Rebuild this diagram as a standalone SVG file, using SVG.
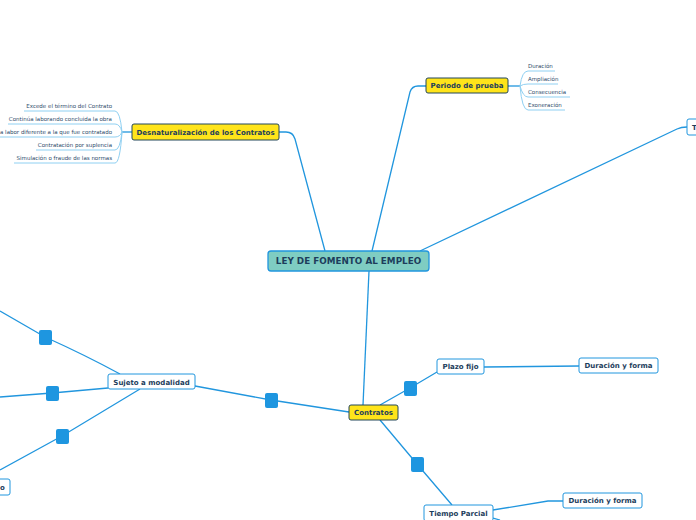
<svg xmlns="http://www.w3.org/2000/svg" width="696" height="520" viewBox="0 0 696 520">
<style>
.c{fill:none;stroke:#2196de;stroke-width:1.3}
.cl{fill:none;stroke:#8fd0f2;stroke-width:1}
.y{fill:#ffe41a;stroke:#23465a;stroke-width:1}
.w{fill:#fff;stroke:#2196de;stroke-width:1}
.t{font-family:"DejaVu Sans",Verdana,sans-serif;font-weight:bold;font-size:7px;fill:#1d3d5c}
.tc{font-family:"DejaVu Sans",Verdana,sans-serif;font-weight:bold;font-size:8.8px;fill:#1d3d5c}
.l{font-family:"DejaVu Sans",Verdana,sans-serif;font-size:5.5px;fill:#2c4a6a}
.sq{fill:#1e96e0}
</style>
<rect width="696" height="520" fill="#fff"/>
<g id="connectors">
<path class="c" d="M325,251 L295,139 Q293,132 286,132 L279,132"/>
<path class="c" d="M372,251 L410,92 Q412,86 418,86 L426,86"/>
<path class="c" d="M420,251 L677,129 Q681,127 687,127"/>
<path class="c" d="M369,271 L363,405"/>
<path class="c" d="M349,412 L271,400 L195,386"/>
<path class="c" d="M120,374 Q85,355 45,337 L0,311"/>
<path class="c" d="M108,388 L52,393 L0,397"/>
<path class="c" d="M140,389 L62,436 L0,470"/>
<path class="c" d="M380,405 L410,388 L437,372"/>
<path class="c" d="M380,420 L417,464 L452,505"/>
<path class="c" d="M484,367 L579,366"/>
<path class="c" d="M493,510 L548,501 L563,501"/>
<path class="c" d="M493,518 L500,520"/>
<path class="c" d="M508,86 L520,86"/>
<path class="cl" d="M520,86 Q522,71 528,71 L555,71"/>
<path class="cl" d="M520,86 Q523,84 528,84 L558,84"/>
<path class="cl" d="M520,86 Q523,97 528,97 L570,97"/>
<path class="cl" d="M520,86 Q522,110 528,110 L565,110"/>
<path class="c" d="M132,132 L122,132"/>
<path class="cl" d="M122,132 Q120,111 115,111 L24,111"/>
<path class="cl" d="M122,132 Q120,124 115,124 L8,124"/>
<path class="cl" d="M122,132 Q120,137 115,137 L0,137"/>
<path class="cl" d="M122,132 Q120,150 115,150 L36,150"/>
<path class="cl" d="M122,132 Q120,163 115,163 L14,163"/>
</g>
<g id="squares">
<rect class="sq" x="39" y="330" width="13" height="15" rx="2"/>
<rect class="sq" x="46" y="386" width="13" height="15" rx="2"/>
<rect class="sq" x="56" y="429" width="13" height="15" rx="2"/>
<rect class="sq" x="265" y="393" width="13" height="15" rx="2"/>
<rect class="sq" x="404" y="381" width="13" height="15" rx="2"/>
<rect class="sq" x="411" y="457" width="13" height="15" rx="2"/>
</g>
<g id="central">
<rect x="268" y="251" width="161" height="20" rx="3" fill="#7fcdc2" stroke="#2196de" stroke-width="1.3"/>
<text class="tc" x="348.5" y="264.3" text-anchor="middle">LEY DE FOMENTO AL EMPLEO</text>
</g>
<g id="desnat">
<rect class="y" x="132" y="124" width="147" height="16" rx="2"/>
<text class="t" x="205.5" y="134.5" text-anchor="middle">Desnaturalización de los Contratos</text>
</g>
<g id="desnat-leaves">
<text class="l" x="112" y="108" text-anchor="end">Excede el término del Contrato</text>
<text class="l" x="112" y="121" text-anchor="end">Continúa laborando concluida la obra</text>
<text class="l" x="112" y="134" text-anchor="end">a labor diferente  a la que fue contratado</text>
<text class="l" x="112" y="147" text-anchor="end">Contratación por suplencia</text>
<text class="l" x="112" y="160" text-anchor="end">Simulación o fraude de las normas</text>
</g>
<g id="periodo">
<rect class="y" x="426" y="78" width="82" height="15" rx="2"/>
<text class="t" x="467" y="88" text-anchor="middle">Periodo de prueba</text>
</g>
<g id="periodo-leaves">
<text class="l" x="528" y="68">Duración</text>
<text class="l" x="528" y="81">Ampliación</text>
<text class="l" x="528" y="94">Consecuencia</text>
<text class="l" x="528" y="107">Exoneración</text>
</g>
<g id="t-node">
<rect class="w" x="687" y="119" width="20" height="16" rx="2"/>
<text class="t" x="692" y="130">T</text>
</g>
<g id="contratos">
<rect class="y" x="349" y="405" width="49" height="15" rx="2"/>
<text class="t" x="373.5" y="415" text-anchor="middle">Contratos</text>
</g>
<g id="plazo">
<rect class="w" x="437" y="359" width="47" height="15" rx="2"/>
<text class="t" x="460.5" y="369" text-anchor="middle">Plazo fijo</text>
</g>
<g id="dur1">
<rect class="w" x="579" y="358" width="79" height="15" rx="2"/>
<text class="t" x="618.5" y="368" text-anchor="middle">Duración y forma</text>
</g>
<g id="tiempo">
<rect class="w" x="424" y="505" width="69" height="16" rx="2"/>
<text class="t" x="458.5" y="516" text-anchor="middle">Tiempo Parcial</text>
</g>
<g id="dur2">
<rect class="w" x="563" y="493" width="79" height="15" rx="2"/>
<text class="t" x="602.5" y="503" text-anchor="middle">Duración y forma</text>
</g>
<g id="sujeto">
<rect class="w" x="108" y="374" width="87" height="15" rx="2"/>
<text class="t" x="151.5" y="384.5" text-anchor="middle">Sujeto a modalidad</text>
</g>
<g id="o-node">
<rect class="w" x="-20" y="479" width="30" height="16" rx="2"/>
<text class="t" x="0" y="490">o</text>
</g>
</svg>
